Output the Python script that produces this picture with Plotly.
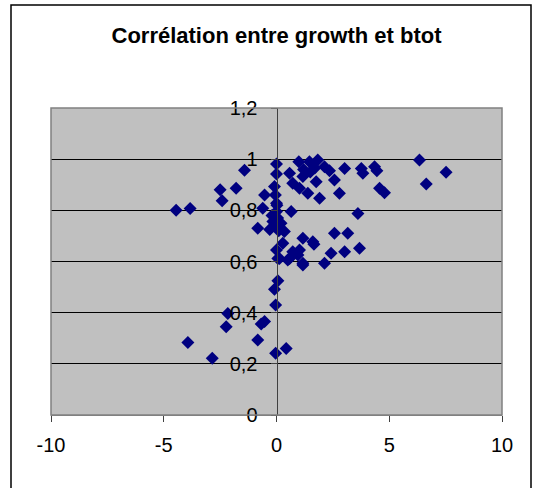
import plotly.graph_objects as go

growth = [-4.45, -3.83, -2.50, -2.41, -1.79, -1.42, -0.53, -0.61, -0.83, -0.16,
          -2.16, -2.23, -3.93, -2.85, -0.68, -0.53, -0.83, -0.04, 0.43, -0.04, -0.09, 0.06,
          0.0, 0.0, -0.09, -0.05, 0.0, 0.0, 0.02, -0.2, 0.05, -0.1, 0.1, -0.3, 0.2,
          0.0, 0.06, 0.28, 0.35, 0.13, 0.5,
          0.58, 0.65, 0.72, 0.99, 1.02, 1.17, 1.39, 1.46, 1.2, 1.5, 1.7, 1.83, 1.76,
          1.91, 2.13, 2.35, 2.57, 2.79, 3.02, 3.76, 3.83, 4.35, 4.45, 4.57, 4.79,
          6.34, 7.52, 6.64, 3.61,
          1.17, 1.61, 1.66, 0.72, 1.02, 1.17, 2.13, 2.57, 3.16, 2.42, 3.02, 3.68,
          0.95, 0.58, 1.17]
btot = [0.80, 0.807, 0.88, 0.837, 0.886, 0.957, 0.86, 0.808, 0.73, 0.756,
        0.397, 0.345, 0.283, 0.222, 0.356, 0.365, 0.293, 0.241, 0.26, 0.43, 0.492, 0.525,
        0.981, 0.942, 0.893, 0.86, 0.828, 0.795, 0.82, 0.78, 0.77, 0.74, 0.72, 0.725, 0.75,
        0.645, 0.612, 0.671, 0.717, 0.612, 0.606,
        0.945, 0.795, 0.906, 0.99, 0.886, 0.932, 0.867, 0.99, 0.96, 0.95, 0.965, 0.997, 0.912,
        0.847, 0.97, 0.955, 0.919, 0.867, 0.964, 0.964, 0.945, 0.97, 0.955, 0.886, 0.869,
        0.997, 0.949, 0.903, 0.788,
        0.691, 0.677, 0.667, 0.638, 0.645, 0.593, 0.593, 0.71, 0.71, 0.632, 0.638, 0.652,
        0.625, 0.612, 0.586]

title_text = "Corrélation entre growth et btot"
x_ticks = [-10, -5, 0, 5, 10]
x_tick_labels = ["-10", "-5", "0", "5", "10"]
y_ticks = [0, 0.2, 0.4, 0.6, 0.8, 1.0, 1.2]
y_tick_labels = ["0", "0,2", "0,4", "0,6", "0,8", "1", "1,2"]

fig = go.Figure()
fig.add_trace(go.Scatter(
    x=growth, y=btot, mode="markers",
    marker=dict(symbol="diamond", size=10, color="#000080",
                line=dict(width=0)),
    showlegend=False, cliponaxis=False,
))

W, H = 542, 488
L, R, T, B = 51, 40, 108, 73
pw = W - L - R
ph = H - T - B

def px2paper_x(px):
    return (px - L) / pw

def px2paper_y(py):
    return (H - B - py) / ph

fig.update_layout(
    width=W, height=H,
    margin=dict(l=L, r=R, t=T, b=B, pad=0),
    paper_bgcolor="white",
    plot_bgcolor="#C0C0C0",
    font=dict(family="Liberation Sans, Arial, sans-serif", size=20, color="black"),
    title=dict(text="<b>" + title_text + "</b>", x=0.5, xref="paper",
               y=1 - 35 / H, yref="container", yanchor="middle", xanchor="center",
               font=dict(size=22, color="black")),
    xaxis=dict(range=[-10, 10], tickvals=x_ticks, ticktext=x_tick_labels,
               showgrid=False, zeroline=False,
               showline=True, linecolor="#808080", linewidth=1,
               ticks="outside", ticklen=6, tickcolor="#404040",
               ticklabelstandoff=6,
               tickfont=dict(size=20), fixedrange=True),
    yaxis=dict(range=[0, 1.2], tickvals=y_ticks, ticktext=y_tick_labels,
               showgrid=True, gridcolor="black",
               gridwidth=1, zeroline=False, anchor="free", position=0.5,
               showline=True, linecolor="#404040", linewidth=1,
               ticks="outside", ticklen=6, tickcolor="#404040",
               ticklabelstandoff=9,
               tickfont=dict(size=20), fixedrange=True),
    shapes=[
        dict(type="rect", xref="paper", yref="paper", x0=0, x1=1, y0=0, y1=1,
             line=dict(color="#808080", width=1.5), fillcolor="rgba(0,0,0,0)", layer="above"),
        dict(type="rect", xref="paper", yref="paper",
             x0=px2paper_x(11), x1=px2paper_x(531),
             y0=px2paper_y(495), y1=px2paper_y(5),
             line=dict(color="black", width=1.5), fillcolor="rgba(0,0,0,0)", layer="below"),
    ],
)

fig.write_html("out.html", config={"displayModeBar": False},
               post_script="document.body.style.margin='0';document.body.style.overflow='hidden';")
